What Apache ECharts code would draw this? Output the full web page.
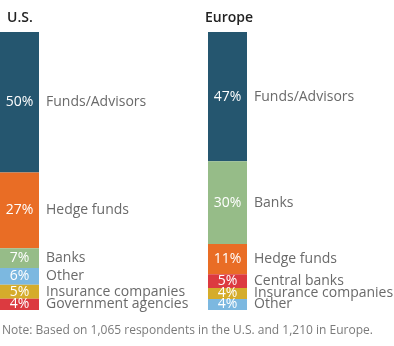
<!DOCTYPE html>
<html>
<head>
<meta charset="utf-8">
<style>
  html, body { margin: 0; padding: 0; background: #fff; }
  #chart { width: 394px; height: 346px; }
</style>
<script src="https://cdn.jsdelivr.net/npm/echarts@6/dist/echarts.min.js"></script>
</head>
<body>
<div id="chart"></div>
<script>
// Who respondents rely on, share of answers (%), top segment first
const usCategories = ['Funds/Advisors', 'Hedge funds', 'Banks', 'Other', 'Insurance companies', 'Government agencies'];
const usValues = [50, 27, 7, 6, 5, 4];

const euCategories = ['Funds/Advisors', 'Banks', 'Hedge funds', 'Central banks', 'Insurance companies', 'Other'];
const euValues = [47, 30, 11, 5, 4, 4];

const panelTitles = ['U.S.', 'Europe'];
const noteText = 'Note: Based on 1,065 respondents in the U.S. and 1,210 in Europe.';

const categoryColors = {
  'Funds/Advisors': '#25566f',
  'Hedge funds': '#e96d25',
  'Banks': '#96bc88',
  'Other': '#7cb8e0',
  'Insurance companies': '#d5ac2b',
  'Government agencies': '#dc3a40',
  'Central banks': '#dc3a40'
};

const FONT = '"Open Sans", "Noto Sans", sans-serif';
const BAR_W = 39;

const panels = [
  { cats: usCategories, vals: usValues, left: 0 },
  { cats: euCategories, vals: euValues, left: 208 }
];

const grids = [], xAxes = [], yAxes = [], series = [];

panels.forEach((p, i) => {
  const total = p.vals.reduce((a, b) => a + b, 0);
  grids.push({ left: p.left, top: 32, width: BAR_W, height: 278 });
  xAxes.push({ type: 'category', data: [panelTitles[i]], gridIndex: i, show: false });
  yAxes.push({ type: 'value', gridIndex: i, min: 0, max: total, inverse: true, show: false });
  p.cats.forEach((name, j) => {
    series.push({
      type: 'bar',
      name: name,
      stack: 'panel' + i,
      xAxisIndex: i,
      yAxisIndex: i,
      barWidth: '100%',
      data: [p.vals[j]],
      itemStyle: { color: categoryColors[name] },
      silent: true,
      animation: false,
      label: {
        show: true,
        position: ['50%', '50%'],
        offset: [-BAR_W / 2, 0],
        align: 'left',
        verticalAlign: 'middle',
        formatter: () => '{p|' + p.vals[j] + '%}{n|' + name + '}',
        rich: {
          p: { width: BAR_W, align: 'center', color: '#ffffff', fontSize: 14, lineHeight: 14, fontFamily: FONT },
          n: { padding: [0, 0, 0, 7], color: '#6a6a6a', fontSize: 14, lineHeight: 14, fontFamily: FONT }
        }
      }
    });
  });
});

const chart = echarts.init(document.getElementById('chart'), null, { renderer: 'canvas' });
chart.setOption({
  backgroundColor: '#ffffff',
  animation: false,
  title: [
    { text: panelTitles[0], left: 7, top: 11, padding: 0, textStyle: { fontSize: 14, fontWeight: 600, color: '#222', fontFamily: FONT } },
    { text: panelTitles[1], left: 205, top: 11, padding: 0, textStyle: { fontSize: 14, fontWeight: 600, color: '#222', fontFamily: FONT } },
    { text: noteText, left: 2, top: 325, padding: 0, textStyle: { fontSize: 12, fontWeight: 'normal', color: '#7a7a7a', fontFamily: FONT } }
  ],
  grid: grids,
  xAxis: xAxes,
  yAxis: yAxes,
  series: series
});
</script>
</body>
</html>
